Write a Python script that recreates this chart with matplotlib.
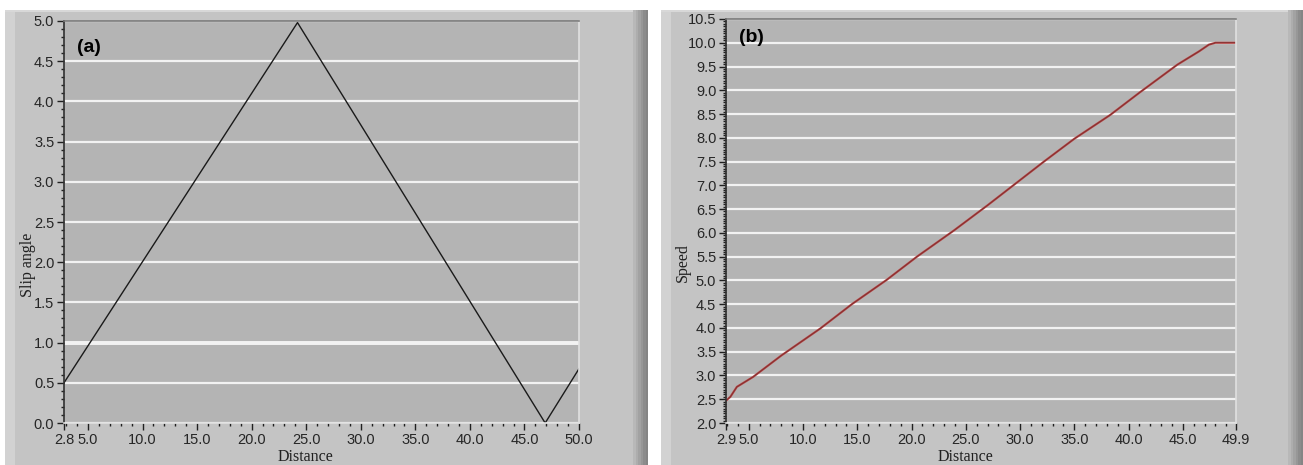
import numpy as np
import matplotlib
matplotlib.use("Agg")
import matplotlib.pyplot as plt
from matplotlib.patches import Rectangle
from matplotlib.ticker import FixedLocator, MultipleLocator

# panel (a): slip angle vs distance
slip_x = [2.8, 24.2, 46.9, 50.0]
slip_y = [0.5, 4.98, 0.0, 0.675]
slip_xticks = [2.8, 5.0, 10.0, 15.0, 20.0, 25.0, 30.0, 35.0, 40.0, 45.0, 50.0]

# panel (b): speed vs distance
speed_x = [2.9, 3.3, 3.9, 5.4, 8.0, 11.6, 14.5, 17.7, 20.5, 23.9, 27.0,
           32.2, 35.0, 38.3, 41.0, 44.5, 46.5, 47.4, 48.0, 49.9]
speed_y = [2.47, 2.55, 2.76, 2.97, 3.42, 3.99, 4.50, 5.01, 5.50, 6.05, 6.58,
           7.50, 7.98, 8.48, 8.95, 9.54, 9.82, 9.96, 10.0, 10.0]
speed_xticks = [2.9, 5.0, 10.0, 15.0, 20.0, 25.0, 30.0, 35.0, 40.0, 45.0, 49.9]

W, H = 1303, 465
fig = plt.figure(figsize=(W / 100, H / 100), dpi=100)
fig.patch.set_facecolor("white")

# background axes for the grey panel frames
bg = fig.add_axes([0, 0, 1, 1], zorder=-10)
bg.set_xlim(0, W)
bg.set_ylim(H, 0)
bg.axis("off")


def px_rect(x0, y0, x1, y1, color):
    bg.add_patch(Rectangle((x0, y0), x1 - x0, y1 - y0, facecolor=color, edgecolor="none"))


def frame(x0, x1):
    px_rect(x0, 10, x1, H, "#c4c4c4")
    px_rect(x0, 10, x0 + 10, H, "#d2d2d2")
    px_rect(x0, 10, x1, 12, "#d8d8d8")
    shades = ["#b8b8b8", "#adadad", "#a2a2a2", "#979797", "#8c8c8c", "#858585"]
    step = 15 / len(shades)
    for i, c in enumerate(shades):
        px_rect(x1 - 15 + i * step, 10, x1 - 15 + (i + 1) * step, H, c)


frame(5, 648)
frame(661, 1303)


def make_axes(l, t, r, b):
    return fig.add_axes([l / W, 1 - b / H, (r - l) / W, (b - t) / H])


def style(ax, xticks, xlim, ylim, ymajor, yminor):
    ax.set_facecolor("#b4b4b4")
    ax.set_xlim(*xlim)
    ax.set_ylim(*ylim)
    ax.xaxis.set_major_locator(FixedLocator(xticks))
    ax.set_xticklabels(["%.1f" % v for v in xticks])
    ax.xaxis.set_minor_locator(MultipleLocator(1.0))
    ax.yaxis.set_major_locator(MultipleLocator(ymajor))
    ax.yaxis.set_minor_locator(MultipleLocator(yminor))
    ax.yaxis.set_major_formatter(matplotlib.ticker.FormatStrFormatter("%.1f"))
    ax.tick_params(which="major", direction="out", length=5, width=1, color="#202020",
                   labelsize=10.5, labelcolor="#262626", pad=2)
    ax.tick_params(which="minor", direction="out", length=2.5, width=1, color="#202020")
    for lab in ax.get_xticklabels() + ax.get_yticklabels():
        lab.set_family("Liberation Sans")
    ax.grid(axis="y", which="major", color="#f2f2f2", lw=1.6)
    ax.set_axisbelow(True)
    ax.spines["left"].set_color("#303030")
    ax.spines["top"].set_color("#7a7a7a")
    ax.spines["right"].set_color("#e0e0e0")
    ax.spines["bottom"].set_color("#e0e0e0")
    for s in ax.spines.values():
        s.set_linewidth(1.2)


ax1 = make_axes(64, 21, 579, 423)
style(ax1, slip_xticks, (2.8, 50.0), (0.0, 5.0), 0.5, 0.1)
ax1.axhline(1.0, color="white", lw=2.6, zorder=0.5)
ax1.plot(slip_x, slip_y, color="#1a1a1a", lw=1.0)
ax1.text(0.025, 0.955, "(a)", transform=ax1.transAxes, fontsize=14, fontweight="bold",
         family="Liberation Sans", va="top", ha="left")

ax2 = make_axes(726, 19, 1236, 423)
style(ax2, speed_xticks, (2.9, 49.9), (2.0, 10.5), 0.5, 0.05)
ax2.plot(speed_x, speed_y, color="#b83c3c", lw=1.5)
ax2.plot(speed_x, speed_y, color="#2a2a2a", lw=0.5, alpha=0.5)
ax2.text(0.025, 0.975, "(b)", transform=ax2.transAxes, fontsize=14, fontweight="bold",
         family="Liberation Sans", va="top", ha="left")

# axis titles
fig.text(305 / W, 1 - 457 / H, "Distance", ha="center", va="center",
         family="Liberation Serif", fontsize=11.5, color="#202020")
fig.text(965 / W, 1 - 457 / H, "Distance", ha="center", va="center",
         family="Liberation Serif", fontsize=11.5, color="#202020")
fig.text(28 / W, 1 - 265 / H, "Slip angle", ha="center", va="center", rotation=90,
         family="Liberation Serif", fontsize=11.5, color="#202020")
fig.text(683 / W, 1 - 263 / H, "Speed", ha="center", va="center", rotation=90,
         family="Liberation Serif", fontsize=11.5, color="#202020")

fig.savefig("out.png", dpi=100, facecolor=fig.get_facecolor())
